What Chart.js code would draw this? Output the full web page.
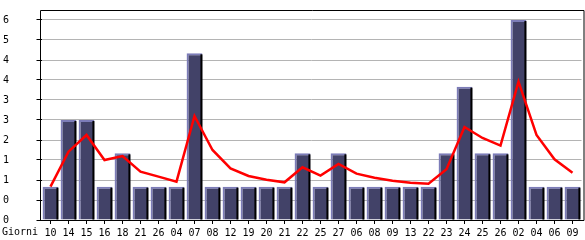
<!DOCTYPE html>
<html>
<head>
<meta charset="utf-8">
<script src="https://cdn.jsdelivr.net/npm/chart.js@4"></script>
<style>
  html, body { margin: 0; padding: 0; background: #ffffff; }
  #wrap { width: 585px; height: 240px; position: relative; }
</style>
</head>
<body>
<div id="wrap"><canvas id="chart" width="585" height="240"></canvas></div>
<script>
const days = ["10", "14", "15", "16", "18", "21", "26", "04", "07", "08", "12", "19", "20", "21", "22",
  "25", "27", "06", "08", "09", "13", "22", "23", "24", "25", "26", "02", "04", "06", "09"];
const visits = [1, 3, 3, 1, 2, 1, 1, 1, 5, 1, 1, 1, 1, 1, 2,
  1, 2, 1, 1, 1, 1, 1, 2, 4, 2, 2, 6, 1, 1, 1];
const trend = [1.0, 2.05, 2.55, 1.8, 1.92, 1.45, 1.3, 1.15, 3.12, 2.1, 1.55, 1.32, 1.21, 1.13, 1.58,
  1.33, 1.68, 1.39, 1.27, 1.18, 1.12, 1.09, 1.52, 2.79, 2.46, 2.23, 4.15, 2.55, 1.82, 1.42];
const yTickValues = [0, 0.6, 1.2, 1.8, 2.4, 3.0, 3.6, 4.2, 4.8, 5.4, 6.0];
const yTickLabels = ["0", "0", "1", "1", "2", "3", "3", "4", "4", "5", "6"];
const axisLabel = "Giorni";

const FONT = { family: "'DejaVu Sans Mono', monospace", size: 10 };

// black shadow on the right of each bar, frame and "Giorni" label
const decorPlugin = {
  id: "decor",
  afterDatasetDraw(chart, args) {
    if (args.index !== 0) return;
    const ctx = chart.ctx;
    ctx.save();
    ctx.fillStyle = "#000000";
    args.meta.data.forEach((bar) => {
      const right = bar.x + bar.width / 2;
      ctx.fillRect(right - 2, bar.y + 1, 2, bar.base - bar.y - 1);
    });
    ctx.restore();
  },
  afterDraw(chart) {
    const { ctx, chartArea } = chart;
    ctx.save();
    ctx.strokeStyle = "#000000";
    ctx.lineWidth = 1;
    ctx.beginPath();
    ctx.moveTo(40.5, chartArea.bottom + 0.5);
    ctx.lineTo(40.5, chartArea.top + 0.5);
    ctx.lineTo(chartArea.right + 2.5, chartArea.top + 0.5);
    ctx.lineTo(chartArea.right + 2.5, chartArea.bottom + 0.5);
    ctx.moveTo(40.5, chartArea.bottom + 0.5);
    ctx.lineTo(chartArea.right + 2.5, chartArea.bottom + 0.5);
    ctx.stroke();
    ctx.fillStyle = "#000000";
    ctx.font = `${FONT.size}px ${FONT.family}`;
    ctx.textBaseline = "middle";
    ctx.textAlign = "left";
    ctx.fillText(axisLabel, 2, 232);
    ctx.restore();
  },
};

new Chart(document.getElementById("chart"), {
  type: "bar",
  data: {
    labels: days,
    datasets: [
      {
        type: "bar",
        data: visits,
        order: 1,
        backgroundColor: "#424268",
        borderColor: "#7c7cb8",
        borderWidth: { left: 2, top: 2, right: 0, bottom: 0 },
        borderSkipped: false,
        categoryPercentage: 1,
        barPercentage: 0.88,
      },
      {
        type: "line",
        data: trend,
        order: 0,
        borderColor: "#ff0000",
        borderWidth: 2.5,
        tension: 0,
        pointRadius: 0,
        fill: false,
      },
    ],
  },
  options: {
    responsive: false,
    animation: false,
    layout: { padding: { top: 10, left: 3, right: 3.5, bottom: 0 } },
    plugins: { legend: { display: false }, tooltip: { enabled: false } },
    scales: {
      x: {
        offset: true,
        border: { display: false },
        grid: { offset: false, drawOnChartArea: false, tickLength: 4, color: "#000000" },
        ticks: { color: "#000000", font: FONT, padding: 3, maxRotation: 0, autoSkip: false },
        afterFit: (scale) => { scale.height = 20; },
      },
      y: {
        min: 0,
        max: 6.3,
        border: { display: false },
        grid: { color: "#b4b4b4", tickColor: "#000000", tickLength: 5 },
        ticks: {
          color: "#000000",
          font: FONT,
          crossAlign: "far",
          callback: (value, index) => yTickLabels[index],
        },
        afterBuildTicks: (scale) => {
          scale.ticks = yTickValues.map((v) => ({ value: v }));
        },
        afterFit: (scale) => { scale.width = 38.5; },
      },
    },
  },
  plugins: [decorPlugin],
});
</script>
</body>
</html>
